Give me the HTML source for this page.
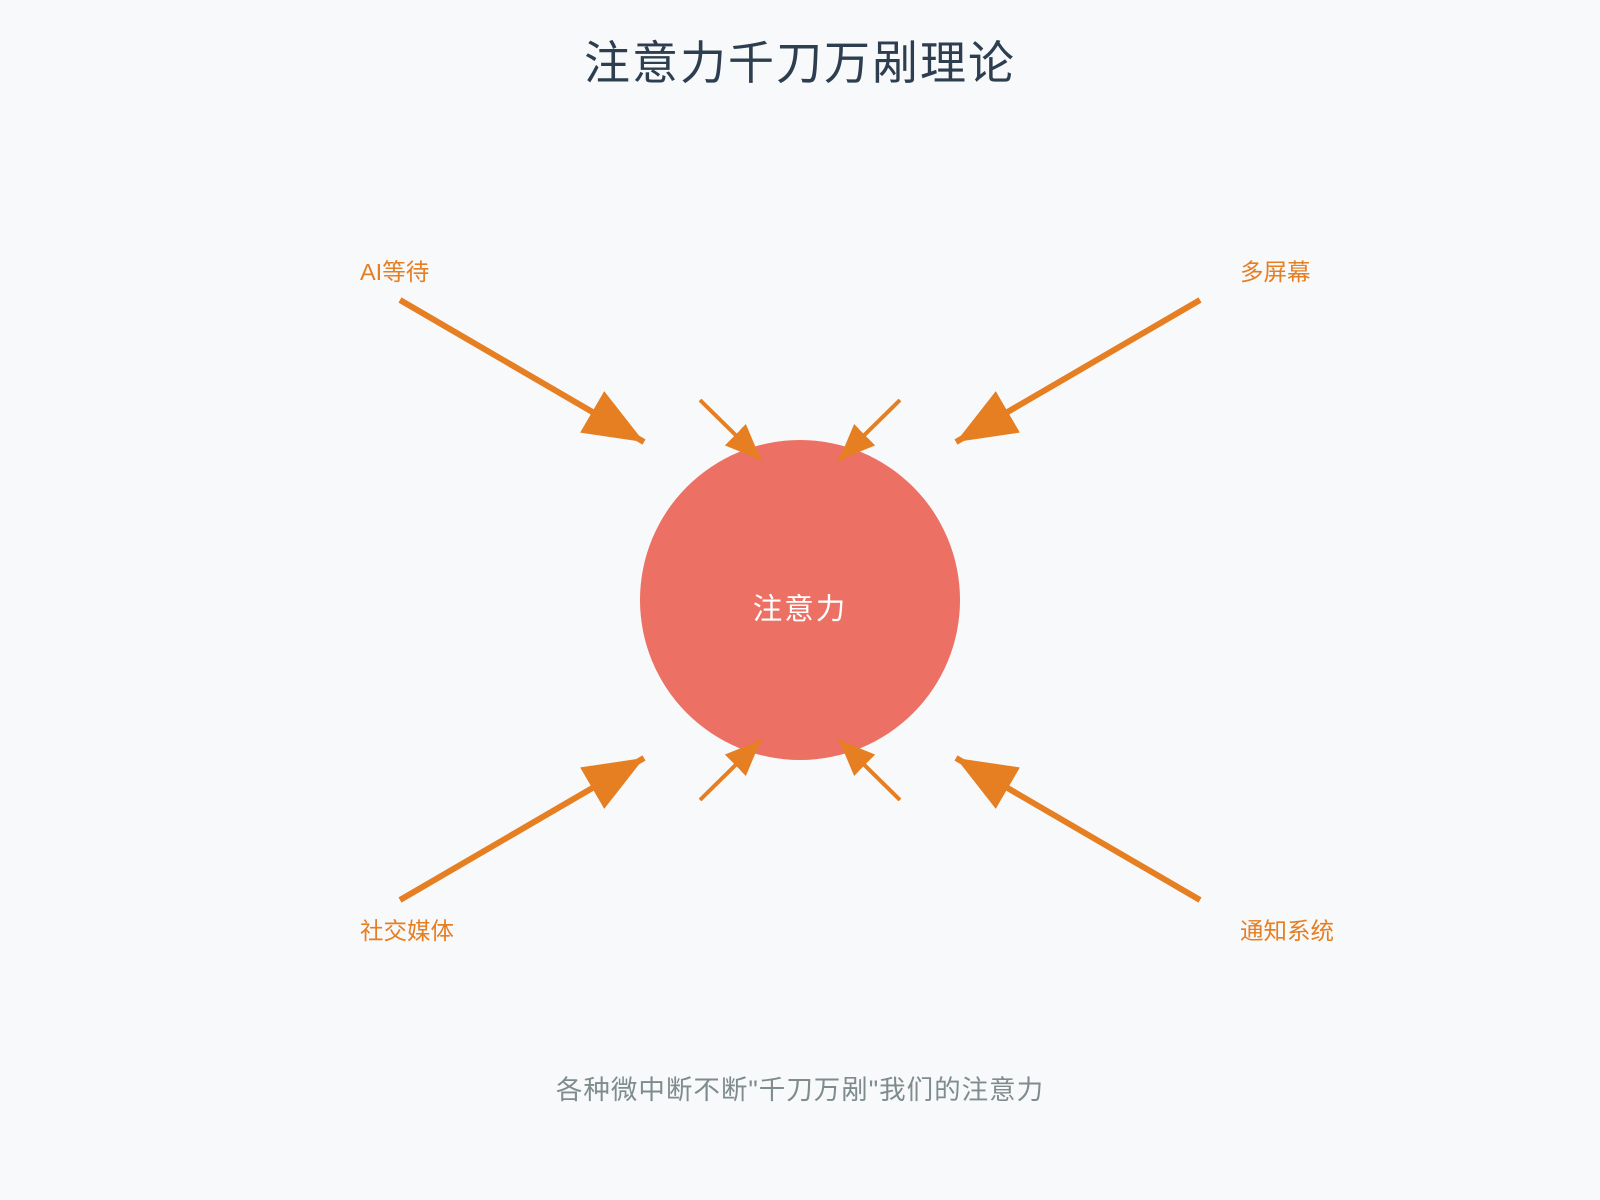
<!DOCTYPE html>
<html><head><meta charset="utf-8"><style>
body{margin:0;background:#f8f9fa;}
svg{display:block}
text{font-family:"Liberation Sans","Noto Sans CJK SC",sans-serif;}
</style></head><body>
<svg width="1600" height="1200" viewBox="0 0 1600 1200">
<defs>
<marker id="big" markerUnits="userSpaceOnUse" markerWidth="60" markerHeight="48" viewBox="0 0 10 10" refX="10" refY="5" orient="auto" preserveAspectRatio="none"><path d="M0,0L10,5L0,10z" fill="#e67e22"/></marker>
<marker id="sm" markerUnits="userSpaceOnUse" markerWidth="36" markerHeight="30" viewBox="0 0 10 10" refX="10" refY="5" orient="auto" preserveAspectRatio="none"><path d="M0,0L10,5L0,10z" fill="#e67e22"/></marker>
</defs>
<rect width="1600" height="1200" fill="#f8f9fa"/>
<text x="800" y="79" text-anchor="middle" font-size="46" fill="#2c3e50" letter-spacing="2">注意力千刀万剐理论</text>
<circle cx="800" cy="600" r="160" fill="#ec7063"/>
<text x="800" y="619" text-anchor="middle" font-size="29.5" fill="#fff" letter-spacing="2">注意力</text>
<g stroke="#e67e22" fill="none">
<line x1="400" y1="300" x2="644" y2="442" stroke-width="6" marker-end="url(#big)"/>
<line x1="1200" y1="300" x2="956" y2="442" stroke-width="6" marker-end="url(#big)"/>
<line x1="400" y1="900" x2="644" y2="758" stroke-width="6" marker-end="url(#big)"/>
<line x1="1200" y1="900" x2="956" y2="758" stroke-width="6" marker-end="url(#big)"/>
<line x1="700" y1="400" x2="761" y2="460" stroke-width="4" marker-end="url(#sm)"/>
<line x1="900" y1="400" x2="839" y2="460" stroke-width="4" marker-end="url(#sm)"/>
<line x1="700" y1="800" x2="761" y2="740" stroke-width="4" marker-end="url(#sm)"/>
<line x1="900" y1="800" x2="839" y2="740" stroke-width="4" marker-end="url(#sm)"/>
</g>
<g font-size="23.5" fill="#e67e22">
<text x="360" y="280">AI等待</text>
<text x="1240" y="280">多屏幕</text>
<text x="360" y="939">社交媒体</text>
<text x="1240" y="939">通知系统</text>
</g>
<text x="800" y="1099" text-anchor="middle" font-size="26.5" fill="#7f8c8d" letter-spacing="1">各种微中断不断"千刀万剐"我们的注意力</text>
</svg>
</body></html>
